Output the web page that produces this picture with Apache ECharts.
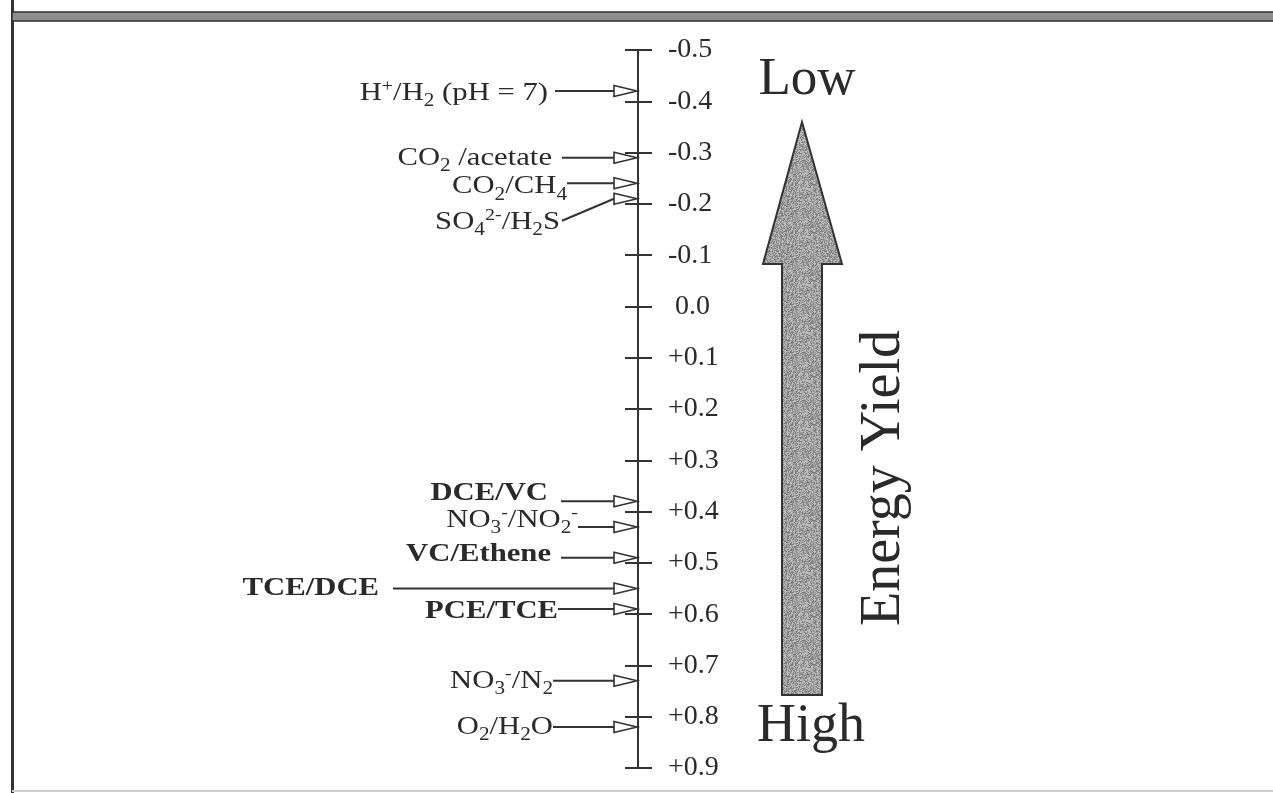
<!DOCTYPE html>
<html>
<head>
<meta charset="utf-8">
<script src="https://cdn.jsdelivr.net/npm/echarts@6/dist/echarts.min.js"></script>
<style>
html, body { margin: 0; padding: 0; background: #fff; }
#chart { width: 1273px; height: 793px; }
</style>
</head>
<body>
<div id="chart"></div>
<script>
// redox couples and their potentials (volts)
var couples = ['H{sup|+}/H{sub|2} (pH = 7)', 'CO{sub|2} /acetate', 'CO{sub|2}/CH{sub|4}', 'SO{sub|4}{sup|2-}/H{sub|2}S',
    'DCE/VC', 'NO{sub|3}{sup|-}/NO{sub|2}{sup|-}', 'VC/Ethene', 'TCE/DCE', 'PCE/TCE',
    'NO{sub|3}{sup|-}/N{sub|2}', 'O{sub|2}/H{sub|2}O'];
var potentials = [-0.42, -0.29, -0.24, -0.21, 0.38, 0.43, 0.49, 0.55, 0.59, 0.73, 0.82];
var chlorinated = [false, false, false, false, true, false, true, true, true, false, false];
var tickMin = -0.5, tickMax = 0.9, tickStep = 0.1;

// label layout, px left of the axis (text end / line start), and vertical shifts
var textEnd = [90, 86, 71, 78, 90, 60, 87, 259, 80, 85, 85];
var lineStart = [83, 76, 71, 76, 77, 60, 77, 245, 80, 85, 85];
var textDrop = [2, 0, 3, 23, -8, -7, -3, 0, 2, 0, 0];
var lineDrop = [0, 0, 0, 22, 0, 0, 0, 0, 0, 0, 0];

var serif = 'Liberation Serif';
var ink = '#2a2a2a';

var chart = echarts.init(document.getElementById('chart'));

function richFor(bold) {
    var w = bold ? 'bold' : 'normal';
    return {
        sub: { fontSize: 18, fontFamily: serif, fontWeight: w, fill: ink, padding: [17, 0, 0, 0] },
        sup: { fontSize: 17, fontFamily: serif, fontWeight: w, fill: ink, padding: [0, 0, 13, 0] }
    };
}

// grey speckle texture for the big arrow
function speckle() {
    var n = 48;
    var c = document.createElement('canvas');
    c.width = c.height = n;
    var g = c.getContext('2d');
    var img = g.createImageData(n, n);
    for (var k = 0; k < n * n; k++) {
        var h = Math.sin(k * 12.9898 + 78.233) * 43758.5453;
        h = h - Math.floor(h);
        var v = Math.round(115 + h * 85);
        img.data[k * 4] = img.data[k * 4 + 1] = img.data[k * 4 + 2] = v;
        img.data[k * 4 + 3] = 255;
    }
    g.putImageData(img, 0, 0);
    return c;
}

function renderCouple(params, api) {
    var i = params.dataIndex;
    var tip = api.coord([0, api.value(1)]);
    var ax = tip[0], y = tip[1];
    var headLen = 24, headHalf = 5.5;
    var bold = chlorinated[i];
    return {
        type: 'group',
        children: [{
            type: 'polyline',
            shape: { points: [[ax - lineStart[i], y + lineDrop[i]], [ax - headLen, y]] },
            style: { stroke: '#333', lineWidth: 2, fill: 'none' }
        }, {
            type: 'polygon',
            shape: { points: [[ax - headLen, y - headHalf], [ax - 1, y], [ax - headLen, y + headHalf]] },
            style: { fill: '#fff', stroke: '#333', lineWidth: 1.6 }
        }, {
            type: 'text',
            x: ax - textEnd[i],
            y: y + textDrop[i],
            scaleX: 1.18,
            style: {
                text: couples[i],
                align: 'right',
                verticalAlign: 'middle',
                fontFamily: serif,
                fontSize: 26,
                fontWeight: bold ? 'bold' : 'normal',
                fill: ink,
                rich: richFor(bold)
            }
        }]
    };
}

function tickLabel(v) {
    var s = Math.abs(v).toFixed(1);
    if (Math.abs(v) < 1e-9) return ' 0.0';
    return (v > 0 ? '+' : '-') + s;
}

var option = {
    animation: false,
    backgroundColor: '#fff',
    grid: { left: 638, right: 200, top: 50, bottom: 25 },
    xAxis: { type: 'value', min: 0, max: 1, show: false },
    yAxis: [{
        type: 'value',
        inverse: true,
        min: tickMin,
        max: tickMax,
        interval: tickStep,
        position: 'left',
        axisLine: { show: true, onZero: false, lineStyle: { color: '#333', width: 2 } },
        axisTick: { show: true, inside: false, length: 13, lineStyle: { color: '#333', width: 2 } },
        axisLabel: {
            inside: true, margin: 30, color: ink,
            fontFamily: serif, fontSize: 28,
            formatter: tickLabel
        },
        splitLine: { show: false }
    }, {
        type: 'value',
        inverse: true,
        min: tickMin,
        max: tickMax,
        interval: tickStep,
        position: 'left',
        axisLine: { show: false },
        axisTick: { show: true, inside: true, length: 14, lineStyle: { color: '#333', width: 2 } },
        axisLabel: { show: false },
        splitLine: { show: false }
    }],
    series: [{
        type: 'custom',
        renderItem: renderCouple,
        clip: false,
        data: potentials.map(function (p, i) { return [0, p, i]; })
    }],
    graphic: [
        // page frame
        { type: 'rect', shape: { x: 11, y: 0, width: 3, height: 793 }, style: { fill: '#333' } },
        { type: 'rect', shape: { x: 12, y: 12, width: 1262, height: 9 }, style: { fill: '#8e8e8e', stroke: '#2f2f2f', lineWidth: 1.5 } },
        { type: 'rect', shape: { x: 12, y: 790, width: 1262, height: 2 }, style: { fill: '#cfcfcf' } },
        // energy yield arrow
        {
            type: 'polygon',
            shape: { points: [[802, 122], [842, 264], [822, 264], [822, 695], [782, 695], [782, 264], [763, 264]] },
            style: { fill: { image: speckle(), repeat: 'repeat' }, stroke: '#333', lineWidth: 2 }
        },
        { type: 'text', x: 807, y: 80, style: { text: 'Low', font: '53px "Liberation Serif"', fill: ink, align: 'center', verticalAlign: 'middle' } },
        { type: 'text', x: 811, y: 727, style: { text: 'High', font: '54px "Liberation Serif"', fill: ink, align: 'center', verticalAlign: 'middle' } },
        { type: 'text', x: 884, y: 478, rotation: Math.PI / 2, style: { text: 'Energy Yield', font: '56px "Liberation Serif"', fill: ink, align: 'center', verticalAlign: 'middle' } }
    ]
};

chart.setOption(option);
</script>
</body>
</html>
